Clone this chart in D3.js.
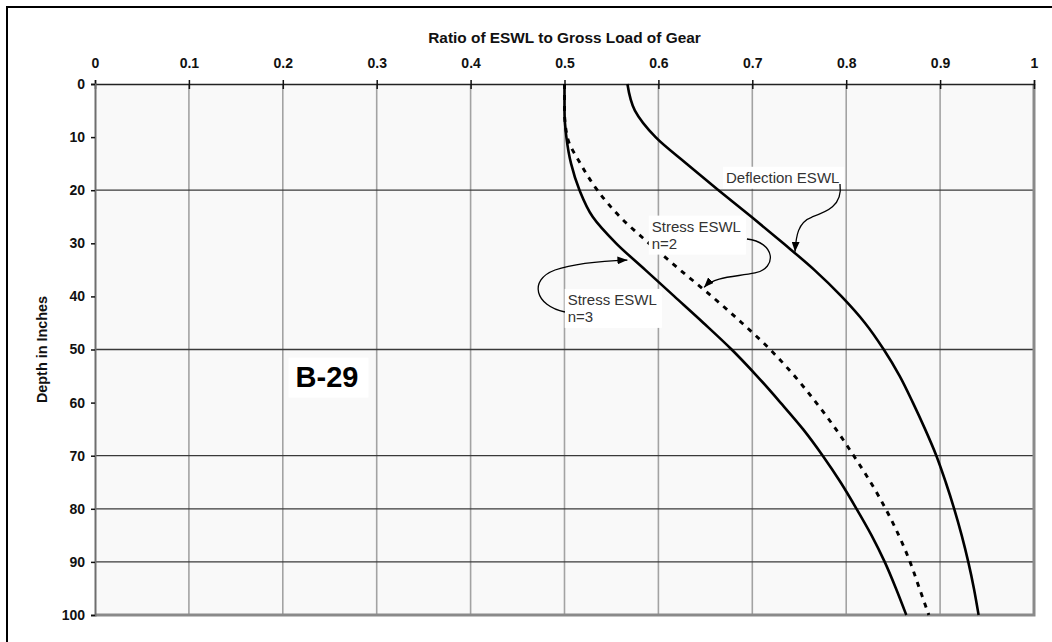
<!DOCTYPE html>
<html><head><meta charset="utf-8">
<script src="https://cdn.jsdelivr.net/npm/d3@7"></script>
<style>
html,body{margin:0;padding:0;background:#fff;}
svg{display:block;}
text{font-family:"Liberation Sans",Arial,sans-serif;}
</style></head><body>
<svg id="chart" width="1052" height="642"></svg>
<script>
// ---- data ----
const depth = [0,5,10,15,20,25,30,35,40,45,50,55,60,65,70,75,80,85,90,95,100];
const deflectionESWL = [0.567,0.575,0.597,0.630,0.664,0.699,0.733,0.766,0.795,0.820,0.840,0.857,0.871,0.884,0.896,0.906,0.915,0.923,0.930,0.936,0.941];
const stressN2 = [0.500,0.500,0.503,0.517,0.535,0.559,0.590,0.623,0.657,0.689,0.719,0.745,0.768,0.789,0.808,0.826,0.842,0.856,0.868,0.878,0.888];
const stressN3 = [0.500,0.500,0.502,0.507,0.516,0.530,0.555,0.586,0.617,0.648,0.678,0.705,0.730,0.754,0.775,0.794,0.811,0.827,0.841,0.853,0.864];
const xTicks = [0,0.1,0.2,0.3,0.4,0.5,0.6,0.7,0.8,0.9,1];
const xTickLabels = ["0","0.1","0.2","0.3","0.4","0.5","0.6","0.7","0.8","0.9","1"];
const yTicks = [0,10,20,30,40,50,60,70,80,90,100];
const yGridLines = [20,50,70,80,90];
const xTitle = "Ratio of ESWL to Gross Load of Gear";
const yTitle = "Depth in Inches";
const chartLabel = "B-29";

// ---- layout ----
const svg = d3.select("#chart");
const L = 95, R = 1034, T = 84, B = 615;
const x = d3.scaleLinear().domain([0,1]).range([L,R]);
const y = d3.scaleLinear().domain([0,100]).range([T,B]);

// outer frame
svg.append("rect").attr("x",7).attr("y",7).attr("width",1200).attr("height",800)
  .attr("fill","none").attr("stroke","#000").attr("stroke-width",2);

// plot background
svg.append("rect").attr("x",L).attr("y",T).attr("width",R-L).attr("height",B-T).attr("fill","#f9f9f9");

// vertical gridlines
svg.append("g").selectAll("line").data(xTicks.slice(1,-1)).join("line")
  .attr("x1",d=>x(d)).attr("x2",d=>x(d)).attr("y1",T).attr("y2",B)
  .attr("stroke","#a3a3a3").attr("stroke-width",1.6);
// horizontal gridlines
svg.append("g").selectAll("line").data(yGridLines).join("line")
  .attr("x1",L).attr("x2",R).attr("y1",d=>y(d)).attr("y2",d=>y(d))
  .attr("stroke","#3a3a3a").attr("stroke-width",1.3);

// right / bottom border (gray)
svg.append("path").attr("d",`M${R},${T}V${B}H${L}`).attr("fill","none")
  .attr("stroke","#8a8a8a").attr("stroke-width",3);

// axes
const xAxis = d3.axisTop(x).tickValues(xTicks).tickFormat((d,i)=>xTickLabels[i]).tickSize(4).tickPadding(12);
const gx = svg.append("g").attr("transform",`translate(0,${T})`).call(xAxis);
gx.select(".domain").attr("stroke","#222").attr("stroke-width",1.4);
gx.selectAll(".tick line").attr("stroke","#111").attr("stroke-width",1.5).attr("y2",-4).attr("y1",5);
gx.selectAll(".tick text").attr("font-size",14).attr("font-weight","bold").attr("fill","#111")
  .style("font-family","'Liberation Sans',Arial,sans-serif");

const yAxis = d3.axisLeft(y).tickValues(yTicks).tickSize(4).tickPadding(6);
const gy = svg.append("g").attr("transform",`translate(${L},0)`).call(yAxis);
gy.select(".domain").attr("stroke","#6e6e6e").attr("stroke-width",2);
gy.selectAll(".tick line").attr("stroke","#111").attr("stroke-width",1.5);
gy.selectAll(".tick text").attr("font-size",14).attr("font-weight","bold").attr("fill","#111")
  .style("font-family","'Liberation Sans',Arial,sans-serif");

// axis titles
svg.append("text").attr("x",(L+R)/2).attr("y",43).attr("text-anchor","middle")
  .attr("font-size",15.4).attr("font-weight","bold").attr("fill","#111").text(xTitle);
svg.append("text").attr("transform",`translate(47,${(T+B)/2}) rotate(-90)`).attr("text-anchor","middle")
  .attr("font-size",14.4).attr("font-weight","bold").attr("fill","#111").text(yTitle);

// curves
const line = (vals) => d3.line().x((v)=>x(v)).y((v,i)=>y(depth[i])).curve(d3.curveMonotoneY)(vals);
svg.append("path").attr("d",line(stressN3)).attr("fill","none").attr("stroke","#000").attr("stroke-width",2.6);
svg.append("path").attr("d",line(deflectionESWL)).attr("fill","none").attr("stroke","#000").attr("stroke-width",2.6);
svg.append("path").attr("d",line(stressN2)).attr("fill","none").attr("stroke","#000").attr("stroke-width",2.9)
  .attr("stroke-dasharray","5,6");

// arrow marker
svg.append("defs").append("marker").attr("id","ah").attr("viewBox","0 0 10 8")
  .attr("refX",10).attr("refY",4).attr("markerWidth",10).attr("markerHeight",8)
  .attr("markerUnits","userSpaceOnUse").attr("orient","auto")
  .append("path").attr("d","M0,0L10,4L0,8Z").attr("fill","#000");

// annotations (positions in data space: [ratio, depth])
const notes = [
  {lines:["Deflection ESWL"], at:[0.672,18.6],
   arrow:[[0.7934,18.83],[0.7966,22.98],[0.7785,24.11],[0.7636,25.05],[0.7487,25.99],[0.7465,28.63],[0.7455,31.6]]},
  {lines:["Stress ESWL","n=2"], at:[0.5929,27.8],
   arrow:[[0.6943,29.19],[0.7242,29.76],[0.7274,34.65],[0.7029,35.59],[0.6816,36.35],[0.6603,36.16],[0.6486,38.3]]},
  {lines:["Stress ESWL","n=3"], at:[0.5034,41.6],
   arrow:[[0.5005,42.94],[0.4686,41.81],[0.4611,36.91],[0.4899,35.03],[0.5112,33.71],[0.5378,33.33],[0.5670,33.15]]}
];
notes.forEach(n=>{
  const g = svg.append("g");
  const rect = g.append("rect").attr("fill","#fff");
  const t = g.append("text").attr("font-size",15).attr("fill","#333");
  n.lines.forEach((s,i)=>t.append("tspan").attr("x",x(n.at[0])).attr("y",y(n.at[1])+i*17).text(s));
  const bb = t.node().getBBox();
  rect.attr("x",bb.x-3).attr("y",bb.y-2).attr("width",bb.width+8).attr("height",bb.height+5);
  const p = n.arrow.map(q=>[x(q[0]),y(q[1])]);
  const d = `M${p[0]}C${p[1]} ${p[2]} ${p[3]}C${p[4]} ${p[5]} ${p[6]}`;
  svg.append("path").attr("d",d).attr("fill","none").attr("stroke","#000").attr("stroke-width",1.3)
    .attr("marker-end","url(#ah)");
});

// B-29 label
const bg = svg.append("g");
const brect = bg.append("rect").attr("fill","#fff");
const bt = bg.append("text").attr("x",x(0.2136)).attr("y",y(57.0)).attr("font-size",29).attr("font-weight","bold")
  .attr("fill","#000").text(chartLabel);
const bbb = bt.node().getBBox();
brect.attr("x",bbb.x-7).attr("y",bbb.y-3).attr("width",bbb.width+17).attr("height",bbb.height+8);
</script>
</body></html>
